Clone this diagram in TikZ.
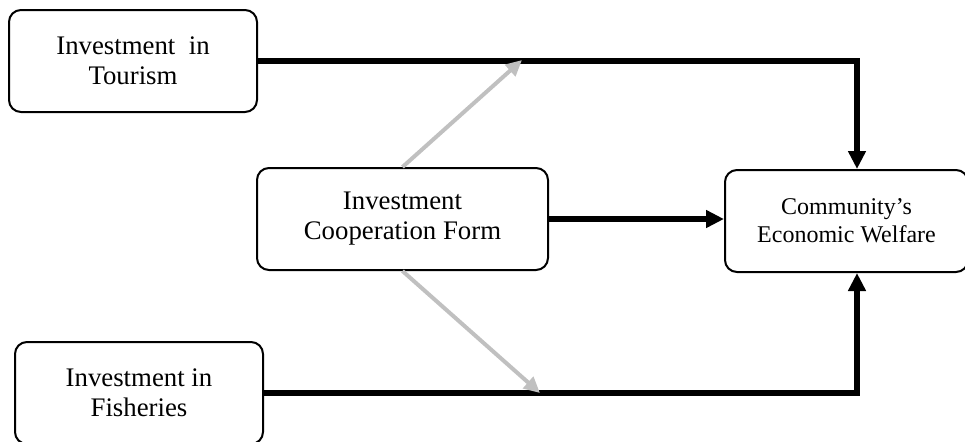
\documentclass[tikz,border=0pt]{standalone}
\usepackage{fontspec}
\setmainfont{Liberation Serif}
\usetikzlibrary{arrows.meta,positioning,calc}
\definecolor{shade}{RGB}{192,192,192}

\begin{document}
\begin{tikzpicture}[x=0.5pt,y=-0.5pt,
    box/.style={draw,line width=1pt,rounded corners=6pt,align=center,
      inner sep=0pt,minimum height=51pt,font=\fontsize{13.4}{15}\selectfont},
    link/.style={line width=3pt,-{Triangle[length=9pt,width=8.5pt]}},
    moder/.style={draw=shade,line width=2pt,-{Triangle[length=8pt,width=7.5pt]}}]
  \useasboundingbox (0,0) rectangle (965,441);
  \node[box,minimum width=124pt] (tour) at (133,61) {Investment~ in\\Tourism};
  \node[box,minimum width=145.5pt] (coop) at (402.5,219) {Investment\\Cooperation Form};
  \node[box,minimum width=121.5pt,font=\fontsize{12}{14}\selectfont] (wel) at (846.5,221)
    {Community’s\\Economic Welfare};
  \node[box,minimum width=124pt] (fish) at (139,393) {Investment in\\Fisheries};
  \coordinate (wtop) at ($(wel.north)+(10.5,0)$);
  \coordinate (wbot) at ($(wel.south)+(10.5,0)$);
  \coordinate (up) at (522,60);
  \coordinate (dn) at (540,393);
  % direct effects
  \draw[link] (tour.east) -| (wtop);
  \draw[link] (fish.east) -| (wbot);
  \draw[link] (coop.east) -- (coop.east -| wel.west);
  % moderating effects
  \draw[moder] (coop.north) -- (up);
  \draw[moder] (coop.south) -- (dn);
\end{tikzpicture}
\end{document}
